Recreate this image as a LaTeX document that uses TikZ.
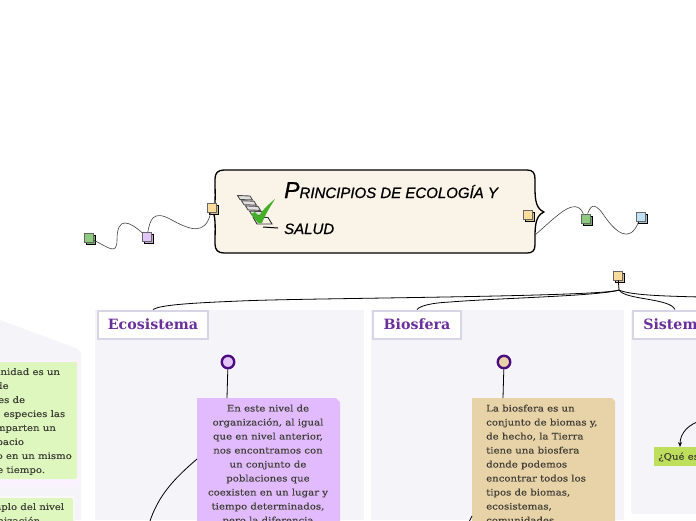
\documentclass[tikz,border=0pt]{standalone}
\usepackage{fontspec}
\setmainfont{DejaVu Serif}
\newfontfamily\handfont[FakeBold=0.8]{Liberation Sans}
\newfontfamily\slabfont[FakeStretch=1.14,FakeBold=0.25]{DejaVu Serif}
\usetikzlibrary{shadows,arrows.meta}
\definecolor{panelgray}{HTML}{F5F5F9}
\definecolor{titleline}{HTML}{D8D5E6}
\definecolor{titleink}{HTML}{6B2F9B}
\definecolor{bodyink}{HTML}{3F3F36}
\definecolor{bitgreen}{HTML}{8FCB7F}
\definecolor{bitpurple}{HTML}{E3C4FB}
\definecolor{bittan}{HTML}{FBDC9C}
\definecolor{bitblue}{HTML}{BFE2F5}
\definecolor{notegreen}{HTML}{DDF7BE}
\definecolor{notepurple}{HTML}{E1BBFE}
\definecolor{notetan}{HTML}{E8D2A7}
\definecolor{notelime}{HTML}{BEDF5B}
\definecolor{mainfill}{HTML}{F9F3E8}
\definecolor{ringink}{HTML}{4B0C7F}
\definecolor{tickgreen}{HTML}{44B02A}
\tikzset{
  bitbox/.style={draw=black!60,line width=0.8pt,fill=#1,minimum size=9pt,inner sep=0pt,
    copy shadow={shadow xshift=2pt,shadow yshift=-2pt,draw=black,fill=#1!85!black}},
  ring/.style={circle,draw=ringink,line width=2.4pt,fill=#1,minimum size=12.5pt,inner sep=0pt},
  paneltitle/.style={draw=titleline,line width=2pt,fill=white,text=titleink,
    font=\bfseries\fontsize{14.2}{15}\selectfont,minimum height=28pt,anchor=west},
  bodytext/.style={text=bodyink,font=\slabfont\fontsize{8.9}{14}\selectfont,inner sep=0pt},
  link/.style={draw=black!75,line width=0.6pt},
  branch/.style={draw=black,line width=0.8pt}
}
\begin{document}
\begin{tikzpicture}[x=1pt,y=-1pt]
\useasboundingbox (0,0) rectangle (696,520);
\clip (0,0) rectangle (696,520);
% panels
\fill[panelgray] (0,320) -- (78,349) -- (81,353) -- (81,520) -- (0,520) -- cycle;
\fill[panelgray] (95,310) rectangle (364,520);
\fill[panelgray] (371,310) rectangle (624,520);
\fill[panelgray,rounded corners=2pt] (631,310) rectangle (720,514);
\node[paneltitle,minimum width=110pt] (ecotitle) at (97,324.5) {Ecosistema};
\node[paneltitle,minimum width=88pt] (biotitle) at (372,324.5) {Biosfera};
\node[paneltitle,minimum width=84pt] (sistitle) at (632,324.5) {Sistema};
% main box
\draw[fill=mainfill,line width=1.3pt,line join=round] (224,170) -- (527,170)
  .. controls (533,170) and (535,173) .. (535,179)
  .. controls (535,195) and (534,208) .. (544,212)
  .. controls (534,216) and (535,230) .. (535,245)
  .. controls (535,251) and (532,253) .. (527,253)
  -- (224,253) .. controls (218,253) and (215,250) .. (215,244)
  .. controls (215,230) and (216,218) .. (213,212)
  .. controls (216,206) and (215,195) .. (215,179)
  .. controls (215,173) and (218,170) .. (224,170) -- cycle;
\coordinate (boxedge) at (535,235);
\node[anchor=north west,align=left,inner sep=0pt,font=\handfont\itshape\fontsize{15}{36}\selectfont] (maintitle) at (284,182)
  {{\fontsize{23}{36}\selectfont P}RINCIPIOS DE ECOLOGÍA Y\\SALUD};
% icon
\foreach \i in {0,1,2,3} {
  \draw[black!70,fill=black!12,line width=0.9pt,shift={(\i*4,\i*5.2)}] (237.5,195.5) -- (250,196) -- (252.5,200) -- (240,199.5) -- cycle;
}
\draw[black!80,line width=0.9pt] (253,217) -- (268,217.5) -- (272,224) -- (257,224) -- cycle;
\draw[black,line width=1pt] (263,227) -- (278,228);
\fill[tickgreen] (251,214) -- (255,212) -- (259,216) .. controls (263,209) and (269,204) .. (275,199)
  .. controls (270,207) and (265,215) .. (262,223) -- (258,223) -- cycle;
% bits
\node[bitbox=bittan] (bita) at (212,208) {};
\node[bitbox=bitpurple] (bitb) at (147,237) {};
\node[bitbox=bitgreen] (bitc) at (89,238) {};
\node[bitbox=bittan] (bitd) at (528,215) {};
\node[bitbox=bitgreen] (bite) at (585.5,218.5) {};
\node[bitbox=bitblue] (bitf) at (640.5,216.5) {};
\node[bitbox=bittan] (bitg) at (618,275.5) {};
\draw[link] (bitc) .. controls (108,247) and (117,256) .. (117,240) .. controls (117,215) and (130,222) .. (bitb);
\draw[link] (bitb) .. controls (150,220) and (153,210) .. (170,219) .. controls (190,230) and (205,236) .. (bita);
\draw[link] (boxedge) .. controls (555,218) and (575,195) .. (bite);
\draw[link] (bite) .. controls (590,208) and (593,200) .. (603,214) .. controls (615,232) and (630,245) .. (bitf);
% branches
\coordinate (fork) at (619,290);
\coordinate (offright) at (700,297);
\draw[branch] (bitg) -- (fork);
\draw[branch] (fork) .. controls (600,297) and (300,298) .. (240,301) .. controls (190,303) and (160,305) .. (ecotitle.north);
\draw[branch] (fork) .. controls (600,296) and (500,298) .. (450,302) .. controls (430,303) and (420,306) .. (biotitle.north);
\draw[branch] (fork) .. controls (625,300) and (670,298) .. (sistitle.north);
\draw[branch] (fork) .. controls (630,295) and (660,296) .. (offright);
% left column
\fill[notepurple!18!white,rounded corners=1pt] (-5,360) rectangle (79,487);
\fill[notegreen,rounded corners=2pt] (-5,362) rectangle (77,479);
\node[bodytext,anchor=north west,align=left] (groupnote) at (-52,368)
  {Una comunidad es un\\conjunto de\\poblaciones de\\diferentes especies las\\cuales comparten un\\mismo espacio\\geográfico en un mismo\\periodo de tiempo.};
\fill[panelgray!60!white,rounded corners=1pt] (-5,496) rectangle (75,525);
\fill[notegreen,rounded corners=2pt] (-5,498) rectangle (73,525);
\node[bodytext,anchor=north west,align=left] (samplenote) at (-42,503)
  {Un ejemplo del nivel\\de organización};
% Ecosistema
\node[ring=bitpurple] (ecoring) at (228,362) {};
\path[fill=notepurple] (197,398) -- (336,398) -- (340,402) -- (340,525) -- (197,525) -- cycle;
\coordinate (ecotop) at (227,398);
\coordinate (ecoleft) at (197,459);
\coordinate (ecodown) at (149,524);
\draw[branch] (ecoring) -- (ecotop);
\draw[branch] (ecoleft) .. controls (175,478) and (158,495) .. (ecodown);
\node[bodytext,anchor=north,align=center] (econote) at (268,404.5)
  {En este nivel de\\organización, al igual\\que en nivel anterior,\\nos encontramos con\\un conjunto de\\poblaciones que\\coexisten en un lugar y\\tiempo determinados,\\pero la diferencia};
% Biosfera
\node[ring=notetan] (bioring) at (504,362) {};
\path[fill=notetan] (472,398) -- (612,398) -- (615,401) -- (615,525) -- (472,525) -- cycle;
\coordinate (biotop) at (503,398);
\coordinate (bioleft) at (472,516);
\coordinate (biodown) at (468,524);
\draw[branch] (bioring) -- (biotop);
\draw[branch] (bioleft) -- (biodown);
\node[bodytext,anchor=north west,align=left] (bionote) at (486,404.5)
  {La biosfera es un\\conjunto de biomas y,\\de hecho, la Tierra\\tiene una biosfera\\donde podemos\\encontrar todos los\\tipos de biomas,\\ecosistemas,\\comunidades,};
% Sistema
\node[fill=notelime,anchor=north west,minimum height=19pt,minimum width=60pt,inner sep=0pt] (sisnote) at (654,447) {};
\node[bodytext,anchor=west] (sistext) at (658,457) {¿Qué es};
\coordinate (sisin) at (700,421);
\draw[branch,-{Stealth[length=5pt,width=4pt]}] (sisin) .. controls (690,424) and (680,432) .. (680,447);
\end{tikzpicture}
\end{document}
